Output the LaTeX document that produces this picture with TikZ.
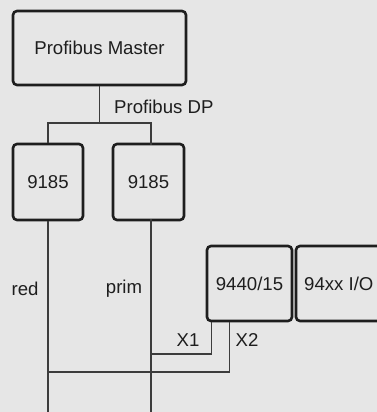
\documentclass[tikz,border=0pt]{standalone}
\usepackage{fontspec}
\setmainfont{Liberation Sans}
\definecolor{bg}{HTML}{E6E6E6}
\definecolor{ink}{HTML}{1E1E1E}
\definecolor{wirec}{HTML}{3C3C3C}
\begin{document}
\begin{tikzpicture}[x=1pt,y=-1pt,
  box/.style={draw=ink, line width=2.6pt, rounded corners=4pt, fill=bg, inner sep=0pt, text=ink},
  wire/.style={draw=wirec, line width=1.2pt},
  lbl/.style={inner sep=0pt, text=ink, font=\fontsize{18.6}{22}\selectfont}]
\fill[bg] (0,0) rectangle (377,412);
\useasboundingbox (0,0) rectangle (377,412);
\clip (0,0) rectangle (377,412);
\node[box, lbl, minimum width=173pt, minimum height=74pt] (master) at (99.5,48) {Profibus Master};
\node[box, lbl, minimum width=70pt, minimum height=76pt] (b1) at (48,182) {9185};
\node[box, lbl, minimum width=71pt, minimum height=76pt] (b2) at (148.5,182) {9185};
\node[box, lbl, minimum width=85pt, minimum height=75pt] (m) at (249.5,283.5) {9440/15};
\node[box, minimum width=96pt, minimum height=75pt] (io) at (344,283.5) {};
\node[lbl, anchor=west] (iotxt) at (304,284) {94xx I/O};
\coordinate (bus) at (99.5,123);
\coordinate (b2top) at (151,145);
\coordinate (b2bot) at (151,219);
\coordinate (redend) at (48,412);
\coordinate (primend) at (151,412);
\coordinate (jx1) at (151,354);
\coordinate (jx2) at (48,372);
\draw[wire] (master.south) -- (bus);
\draw[wire] (b1.north) |- (bus) -| (b2top);
\draw[wire] (b1.south) -- (redend);
\draw[wire] (b2bot) -- (primend);
\draw[wire] ([xshift=6pt]m.south west) |- (jx1);
\draw[wire] ([xshift=24pt]m.south west) |- (jx2);
\node[lbl, anchor=west] (dp) at (114,107) {Profibus DP};
\node[lbl] (red) at (25,289) {red};
\node[lbl] (prim) at (124,289) {prim};
\node[lbl] (x1) at (188,340) {X1};
\node[lbl] (x2) at (247,340) {X2};
\end{tikzpicture}
\end{document}
